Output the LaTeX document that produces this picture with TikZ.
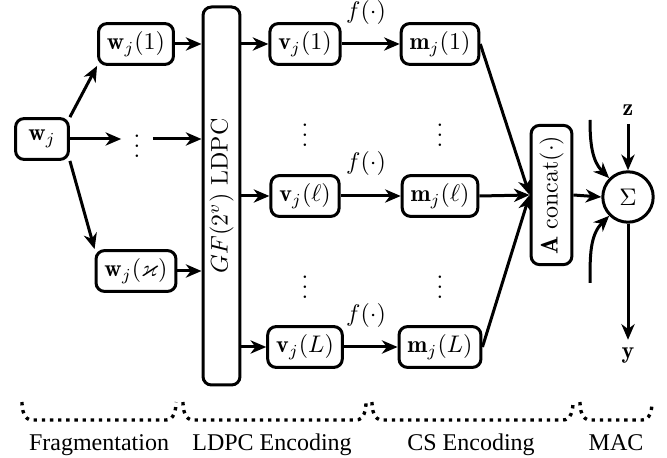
\documentclass[tikz,border=0pt]{standalone}
\usepackage{amssymb}
\usepackage{fontspec}
\newfontfamily\timesf{Liberation Serif}
\usetikzlibrary{arrows.meta}
\begin{document}
\begin{tikzpicture}[x=0.41667pt,y=-0.41667pt,
 box/.style={draw, line width=1.25pt, rounded corners=3.5pt, minimum height=17pt, inner xsep=3.5pt, inner ysep=0pt},
 arr/.style={line width=1.25pt, -{Stealth[length=6.5pt,width=5.5pt,inset=2pt]}},
 brc/.style={dotted, line width=1.4pt},
 lab/.style={font=\timesf, anchor=base}]
\useasboundingbox (0,0) rectangle (667,458);
% fragmentation
\node[box, minimum width=22pt] (w) at (42,139) {$\mathbf{w}_j$};
\node[box] (w1) at (136,44) {$\mathbf{w}_j(1)$};
\node[box] (wk) at (136,271) {$\mathbf{w}_j(\varkappa)$};
\node[inner sep=0pt] (wd) at (137,139) {$\vdots$};
% LDPC bar
\node[box, rotate=90, minimum width=157.5pt, minimum height=15.4pt, inner sep=0pt] (gf) at (221.5,196) {$GF(2^v)$ LDPC};
% v nodes
\node[box] (v1) at (305,44) {$\mathbf{v}_j(1)$};
\node[box] (vl) at (305,196) {$\mathbf{v}_j(\ell)$};
\node[box] (vL) at (305,347) {$\mathbf{v}_j(L)$};
\node[inner sep=0pt] (vd1) at (305,128) {$\vdots$};
\node[inner sep=0pt] (vd2) at (305,280) {$\vdots$};
% m nodes
\node[box] (m1) at (440,44) {$\mathbf{m}_j(1)$};
\node[box] (ml) at (440,196) {$\mathbf{m}_j(\ell)$};
\node[box] (mL) at (440,347) {$\mathbf{m}_j(L)$};
\node[inner sep=0pt] (md1) at (440,128) {$\vdots$};
\node[inner sep=0pt] (md2) at (440,280) {$\vdots$};
\node[inner sep=1pt] (f1) at (366,13) {$f(\cdot)$};
\node[inner sep=1pt] (f2) at (366,164) {$f(\cdot)$};
\node[inner sep=1pt] (f3) at (366,316) {$f(\cdot)$};
% concat and sum
\node[box, rotate=90, minimum width=58pt, minimum height=17pt, inner sep=0pt] (cc) at (551.5,195) {$\mathbf{A}\;\mathrm{concat}(\cdot)$};
\node[draw, circle, line width=1.25pt, minimum size=21pt, inner sep=0pt] (sig) at (628,197) {$\Sigma$};
\node (z) at (628,110) {$\mathbf{z}$};
\node (y) at (628,356) {$\mathbf{y}$};
\coordinate (c1) at (590,120);
\coordinate (c2) at (590,283);
% connectors
\draw[arr] (w.north east) -- (w1.south west);
\draw[arr] (w.south east) -- (wk.north west);
\draw[arr, shorten >=5pt] (w.east) -- (wd.west);
\draw[arr, shorten <=5pt] (wd.east) -- (wd.east -| gf.north);
\draw[arr] (w1.east) -- (w1.east -| gf.north);
\draw[arr] (wk.east) -- (wk.east -| gf.north);
\draw[arr] (v1.west -| gf.south) -- (v1.west);
\draw[arr] (vl.west -| gf.south) -- (vl.west);
\draw[arr] (vL.west -| gf.south) -- (vL.west);
\draw[arr] (v1) -- (m1);
\draw[arr] (vl) -- (ml);
\draw[arr] (vL) -- (mL);
\draw[arr] (m1.east) -- (cc.north);
\draw[arr] (ml.east) -- (cc.north);
\draw[arr] (mL.east) -- (cc.north);
\draw[arr] (cc.south) -- (sig.west);
\draw[arr] (z) -- (sig.north);
\draw[arr] (sig.south) -- (y);
\draw[arr] (c1) to[out=-90,in=135] (sig.135);
\draw[arr] (c2) to[out=90,in=225] (sig.225);
% braces
\draw[brc] (22,402) to[out=-90,in=180] (32,420) -- (166,420) to[out=0,in=-90] (176,402);
\draw[brc] (183,402) to[out=-90,in=180] (193,420) -- (356,420) to[out=0,in=-90] (366,402);
\draw[brc] (372,402) to[out=-90,in=180] (382,420) -- (563,420) to[out=0,in=-90] (573,402);
\draw[brc] (580,402) to[out=-90,in=180] (590,420) -- (642,420) to[out=0,in=-90] (652,402);
\node[lab] (l1) at (99,450) {Fragmentation};
\node[lab] (l2) at (272,450) {LDPC Encoding};
\node[lab] (l3) at (471,450) {CS Encoding};
\node[lab] (l4) at (616,450) {MAC};
\end{tikzpicture}
\end{document}
